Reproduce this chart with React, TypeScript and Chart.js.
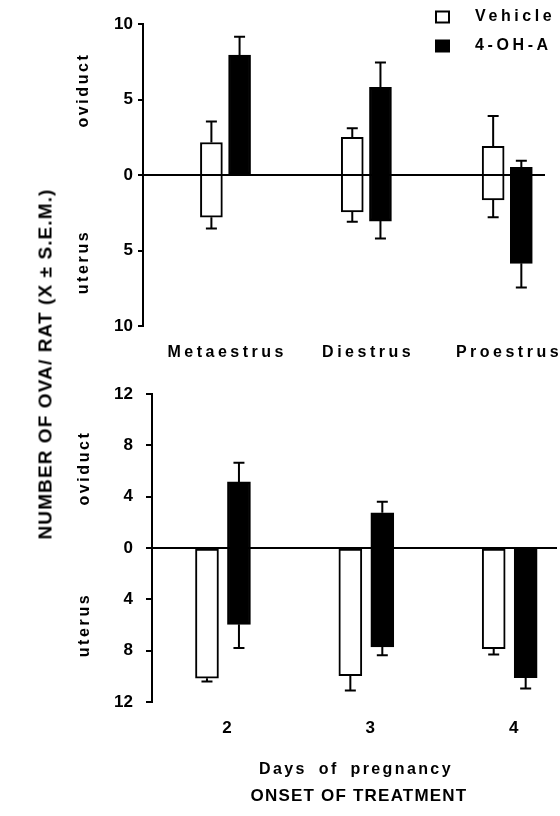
import React, { useEffect, useRef } from "react";
import { Chart, registerables } from "chart.js";
Chart.register(...registerables);

const FONT = '"Liberation Sans", Arial, Helvetica, sans-serif';

// ---- Top panel: onset of treatment by stage of the oestrous cycle ----
const stageLabels = ["Metaestrus", "Diestrus", "Proestrus"];
const stageVehicleOviduct = [2.15, 2.5, 1.9];
const stageVehicleOviductSem = [1.4, 0.6, 2.0];
const stageVehicleUterus = [2.8, 2.45, 1.65];
const stageVehicleUterusSem = [0.75, 0.65, 1.15];
const stageDrugOviduct = [7.95, 5.8, 0.5];
const stageDrugOviductSem = [1.2, 1.65, 0.45];
const stageDrugUterus = [0, 3.05, 5.85];
const stageDrugUterusSem = [0, 1.15, 1.6];
const stageTicks = [-10, -5, 0, 5, 10];

// ---- Bottom panel: onset of treatment by day of pregnancy ----
const dayLabels = ["2", "3", "4"];
const dayVehicleOviduct = [0, 0, 0];
const dayVehicleOviductSem = [0, 0, 0];
const dayVehicleUterus = [10.15, 9.95, 7.85];
const dayVehicleUterusSem = [0.25, 1.15, 0.45];
const dayDrugOviduct = [5.15, 2.75, 0];
const dayDrugOviductSem = [1.5, 0.85, 0];
const dayDrugUterus = [5.95, 7.7, 10.1];
const dayDrugUterusSem = [1.85, 0.65, 0.85];
const dayTicks = [-12, -8, -4, 0, 4, 8, 12];

const seriesNames = ["Vehicle", "4-OH-A"];
const seriesFills = ["#ffffff", "#000000"];

function makeDataset(
  label: string,
  fill: string,
  oviduct: number[],
  oviductSem: number[],
  uterus: number[],
  uterusSem: number[],
  offset: number,
  thickness: number
) {
  return {
    label,
    data: oviduct.map((v, i) => ({ x: i + 1 + offset, y: [-uterus[i], v] })),
    ovSem: oviductSem,
    utSem: uterusSem,
    backgroundColor: fill,
    borderColor: "#000",
    borderWidth: 2,
    borderSkipped: false,
    barThickness: thickness,
    grouped: false,
  };
}

const errorBarPlugin = {
  id: "errorBars",
  afterDatasetsDraw(chart: any) {
    const ctx = chart.ctx;
    const ys = chart.scales.y;
    chart.data.datasets.forEach((ds: any, di: number) => {
      const meta = chart.getDatasetMeta(di);
      meta.data.forEach((bar: any, i: number) => {
        const [lo, hi] = ds.data[i].y;
        const cx = bar.x;
        const seg = (from: number, to: number) => {
          const y1 = ys.getPixelForValue(from);
          const y2 = ys.getPixelForValue(to);
          ctx.beginPath();
          ctx.moveTo(cx, y1);
          ctx.lineTo(cx, y2);
          ctx.moveTo(cx - 5.5, y2);
          ctx.lineTo(cx + 5.5, y2);
          ctx.stroke();
        };
        ctx.save();
        ctx.strokeStyle = "#000";
        ctx.lineWidth = 2;
        if (ds.ovSem[i] > 0) seg(hi, hi + ds.ovSem[i]);
        if (ds.utSem[i] > 0) seg(lo, lo - ds.utSem[i]);
        ctx.restore();
      });
    });
  },
};

const zeroLinePlugin = {
  id: "zeroLine",
  afterDatasetsDraw(chart: any) {
    const ctx = chart.ctx;
    const y = chart.scales.y.getPixelForValue(0);
    const a = chart.chartArea;
    ctx.save();
    ctx.strokeStyle = "#000";
    ctx.lineWidth = 2;
    ctx.beginPath();
    ctx.moveTo(a.left, y);
    ctx.lineTo(a.right, y);
    ctx.stroke();
    ctx.restore();
  },
};

const stageLabelPlugin = {
  id: "stageLabels",
  afterDraw(chart: any) {
    const ctx = chart.ctx;
    const xs = chart.scales.x;
    const spacing = 3.5;
    ctx.save();
    ctx.font = `bold 16px ${FONT}`;
    (ctx as any).letterSpacing = `${spacing}px`;
    ctx.fillStyle = "#000";
    ctx.textAlign = "center";
    ctx.textBaseline = "middle";
    stageLabels.forEach((lab, i) => {
      ctx.fillText(lab, xs.getPixelForValue(i + 1) + spacing / 2, chart.chartArea.bottom + 27);
    });
    ctx.restore();
  },
};

const legendPlugin = {
  id: "customLegend",
  afterDraw(chart: any) {
    const ctx = chart.ctx;
    const spacing = 3.6;
    ctx.save();
    ctx.font = `bold 16px ${FONT}`;
    (ctx as any).letterSpacing = `${spacing}px`;
    ctx.textAlign = "left";
    ctx.textBaseline = "middle";
    chart.data.datasets.forEach((ds: any, i: number) => {
      const y = 17 + i * 29;
      ctx.fillStyle = ds.backgroundColor;
      ctx.strokeStyle = "#000";
      ctx.lineWidth = 2;
      ctx.fillRect(436, y - 5.5, 13, 11);
      ctx.strokeRect(436, y - 5.5, 13, 11);
      ctx.fillStyle = "#000";
      ctx.fillText(ds.label, 475, y);
    });
    ctx.restore();
  },
};

function yScale(min: number, max: number, ticks: number[], width: number, tickLen: number, pad: number) {
  return {
    type: "linear",
    min,
    max,
    afterBuildTicks: (s: any) => {
      s.ticks = ticks.map((v) => ({ value: v }));
    },
    afterFit: (s: any) => {
      s.width = width;
    },
    ticks: {
      callback: (v: any) => String(Math.abs(Number(v))),
      font: { family: FONT, size: 17, weight: "bold" },
      color: "#000",
      padding: pad,
    },
    grid: { drawOnChartArea: false, drawTicks: true, tickLength: tickLen, color: "#000", lineWidth: 2 },
    border: { display: true, color: "#000", width: 2 },
  };
}

function topConfig(): any {
  return {
    type: "bar",
    data: {
      datasets: [
        makeDataset(seriesNames[0], seriesFills[0], stageVehicleOviduct, stageVehicleOviductSem, stageVehicleUterus, stageVehicleUterusSem, -0.1, 22),
        makeDataset(seriesNames[1], seriesFills[1], stageDrugOviduct, stageDrugOviductSem, stageDrugUterus, stageDrugUterusSem, 0.1, 22),
      ],
    },
    options: {
      responsive: false,
      animation: false,
      events: [],
      layout: { padding: { left: 0, right: 15, top: 24, bottom: 44 } },
      plugins: { legend: { display: false }, tooltip: { enabled: false } },
      scales: {
        x: { type: "linear", display: false, min: 0.4145, max: 3.268, offset: false },
        y: yScale(-10, 10, stageTicks, 143, 5, 5),
      },
    },
    plugins: [zeroLinePlugin, errorBarPlugin, stageLabelPlugin, legendPlugin],
  };
}

function bottomConfig(): any {
  return {
    type: "bar",
    data: {
      datasets: [
        makeDataset(seriesNames[0], seriesFills[0], dayVehicleOviduct, dayVehicleOviductSem, dayVehicleUterus, dayVehicleUterusSem, -0.1115, 23),
        makeDataset(seriesNames[1], seriesFills[1], dayDrugOviduct, dayDrugOviductSem, dayDrugUterus, dayDrugUterusSem, 0.1115, 23),
      ],
    },
    options: {
      responsive: false,
      animation: false,
      events: [],
      layout: { padding: { left: 0, right: 3, top: 24, bottom: 0 } },
      plugins: { legend: { display: false }, tooltip: { enabled: false } },
      scales: {
        x: {
          type: "linear",
          min: 0.505,
          max: 3.33,
          offset: false,
          afterBuildTicks: (s: any) => {
            s.ticks = dayLabels.map((_, i) => ({ value: i + 1 }));
          },
          afterFit: (s: any) => {
            s.height = 114;
          },
          ticks: {
            callback: (_v: any, idx: number) => dayLabels[idx],
            font: { family: FONT, size: 17, weight: "bold" },
            color: "#000",
            padding: 16,
            labelOffset: 4,
            maxRotation: 0,
            autoSkip: false,
          },
          grid: { display: false, drawTicks: false },
          border: { display: false },
        },
        y: yScale(-12, 12, dayTicks, 152, 6, 13),
      },
    },
    plugins: [zeroLinePlugin, errorBarPlugin],
  };
}

const sideLabel = (text: string, x: number, y: number) => (
  <div
    style={{
      position: "absolute",
      left: x,
      top: y,
      transform: "translate(-50%, -50%) rotate(-90deg)",
      whiteSpace: "nowrap",
      font: `bold 16px ${FONT}`,
      lineHeight: "1",
      letterSpacing: "2.6px",
    }}
  >
    {text}
  </div>
);

export default function App() {
  const topRef = useRef<HTMLCanvasElement>(null);
  const botRef = useRef<HTMLCanvasElement>(null);

  useEffect(() => {
    const top = new Chart(topRef.current as HTMLCanvasElement, topConfig());
    const bot = new Chart(botRef.current as HTMLCanvasElement, bottomConfig());
    return () => {
      top.destroy();
      bot.destroy();
    };
  }, []);

  return (
    <div
      style={{
        position: "absolute",
        left: 0,
        top: 0,
        width: 560,
        height: 816,
        background: "#fff",
        overflow: "hidden",
        color: "#000",
        fontFamily: FONT,
      }}
    >
      <canvas ref={topRef} width={560} height={370} style={{ position: "absolute", left: 0, top: 0, width: 560, height: 370 }} />
      <canvas ref={botRef} width={560} height={446} style={{ position: "absolute", left: 0, top: 370, width: 560, height: 446 }} />

      <div
        style={{
          position: "absolute",
          left: 45,
          top: 364,
          transform: "translate(-50%, -50%) rotate(-90deg)",
          whiteSpace: "nowrap",
          font: `bold 19px ${FONT}`,
          lineHeight: "1",
          letterSpacing: "1.1px",
        }}
      >
        NUMBER OF OVA/ RAT (X ± S.E.M.)
      </div>

      {sideLabel("oviduct", 83, 90)}
      {sideLabel("uterus", 83, 262)}
      {sideLabel("oviduct", 84, 468)}
      {sideLabel("uterus", 84, 625)}

      <div
        style={{
          position: "absolute",
          left: 356,
          top: 769,
          transform: "translate(-50%, -50%)",
          whiteSpace: "nowrap",
          font: `bold 16px ${FONT}`,
          lineHeight: "1",
          letterSpacing: "2.4px",
          wordSpacing: "5px",
        }}
      >
        Days of pregnancy
      </div>
      <div
        style={{
          position: "absolute",
          left: 359,
          top: 795,
          transform: "translate(-50%, -50%)",
          whiteSpace: "nowrap",
          font: `bold 17px ${FONT}`,
          lineHeight: "1",
          letterSpacing: "1.2px",
        }}
      >
        ONSET OF TREATMENT
      </div>
    </div>
  );
}
